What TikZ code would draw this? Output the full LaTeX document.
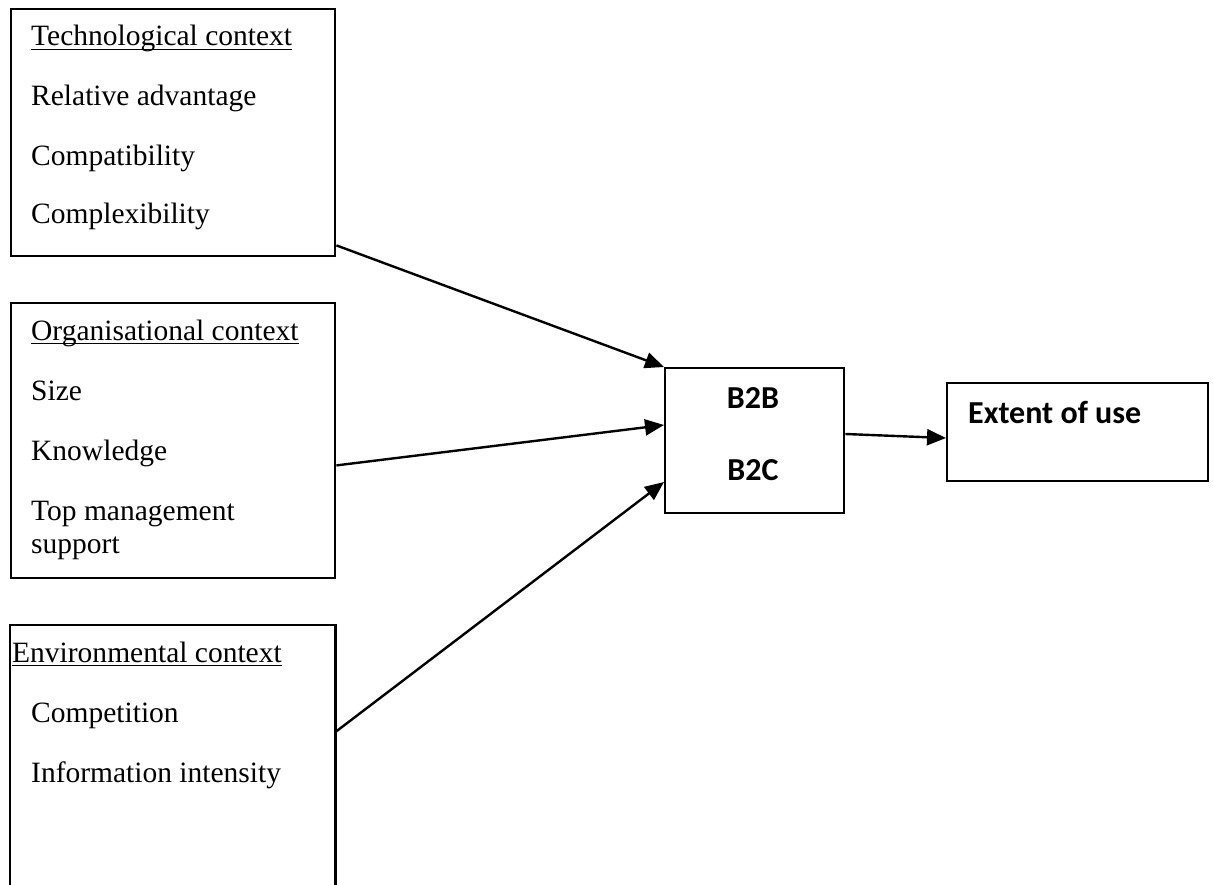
\documentclass[tikz,border=0pt]{standalone}
\usepackage{fontspec}
\setmainfont{Liberation Serif}
\newfontfamily\calib{Carlito}
\usetikzlibrary{arrows.meta,calc}
\begin{document}
\begin{tikzpicture}[x=1pt,y=-1pt,
  boxline/.style={draw=black,line width=2.4pt},
  ctx/.style={boxline,anchor=north west,inner sep=0pt},
  lbl/.style={anchor=base west,inner sep=0pt,font=\fontsize{29.5}{33}\selectfont},
  bld/.style={inner sep=0pt,font=\calib\bfseries\fontsize{32}{36}\selectfont},
  arr/.style={line width=2.4pt,-{Triangle[length=19pt,width=16pt]}},
  uln/.style={line width=1.8pt}
]
\useasboundingbox (0,0) rectangle (1214,885);
% boxes
\node[ctx,minimum width=324pt,minimum height=247pt] (tech) at (10,8) {};
\node[ctx,minimum width=324pt,minimum height=275pt] (org) at (10,302) {};
\node[anchor=north west,inner sep=0pt,minimum width=325pt,minimum height=262pt] (env) at (10,625) {};
\draw[line width=2.4pt] (env.south west) -- (env.north west) -- (env.north east) -- (env.south east);
\node[ctx,minimum width=179pt,minimum height=145pt] (bb) at (664,367) {};
\node[ctx,minimum width=261pt,minimum height=98pt] (ext) at (946,382) {};
% texts
\node[lbl] (t0) at (31,46) {Technological context};
\node[lbl] (t1) at (31,106) {Relative advantage};
\node[lbl] (t2) at (31,166) {Compatibility};
\node[lbl] (t3) at (31,224) {Complexibility};
\node[lbl] (o0) at (31,340) {Organisational context};
\node[lbl] (o1) at (31,400) {Size};
\node[lbl] (o2) at (31,460) {Knowledge};
\node[lbl] (o3) at (31,520) {Top management};
\node[lbl] (o4) at (31,553) {support};
\node[lbl] (e0) at (12,662) {Environmental context};
\node[lbl] (e1) at (31,722) {Competition};
\node[lbl] (e2) at (31,782) {Information intensity};
\draw[uln] ([yshift=-3.5pt]t0.base west) -- ([yshift=-3.5pt]t0.base east);
\draw[uln] ([yshift=-3.5pt]o0.base west) -- ([yshift=-3.5pt]o0.base east);
\draw[uln] ([yshift=-3.5pt]e0.base west) -- ([yshift=-3.5pt]e0.base east);
\node[bld,anchor=base] (b2b) at (753,408) {B2B};
\node[bld,anchor=base] (b2c) at (753,480) {B2C};
\node[bld,anchor=base west] (extt) at (968,423) {Extent of use};
% arrows
\draw[arr] ($(tech.south east)+(0,-12)$) -- (bb.north west);
\draw[arr] ($(org.south east)+(0,-114)$) -- ($(bb.north west)+(0,58)$);
\draw[arr] ($(env.north east)+(0,107)$) -- ($(bb.north west)+(0,115)$);
\draw[arr] ($(bb.north east)+(0,67)$) -- ($(ext.north west)+(0,56)$);
\end{tikzpicture}
\end{document}
